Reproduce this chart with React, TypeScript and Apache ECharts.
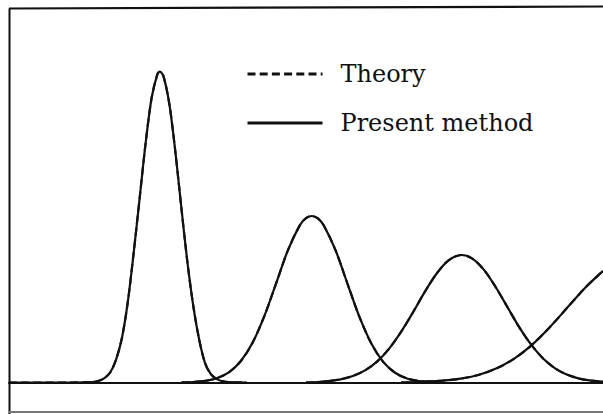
import React, { useEffect, useRef } from "react";
import * as echarts from "echarts";

// Peak profiles: [position, intensity] on a 0–100 by 0–100 scale.
const firstPeak: number[][] = [
  [0, 0], [10, 0], [14, 0.1], [15, 0.4], [16, 1.1], [17, 2.6], [18, 6.0],
  [19, 11.8], [20, 21.5], [21, 34.8], [22, 49.3], [23, 63.9], [24, 75.9],
  [25, 82.4], [25.4, 83.0], [26, 81.8], [27, 74.3], [28, 61.7], [29, 46.9],
  [30, 32.6], [31, 20.7], [32, 11.6], [33, 5.2], [34, 2.2], [35, 0.9],
  [36, 0.3], [37, 0.1], [40, 0],
];
const secondPeak: number[][] = [
  [29, 0], [31, 0.13], [33, 0.43], [35, 1.13], [37, 2.68], [39, 5.66],
  [41, 10.6], [43, 17.8], [45, 26.6], [47, 35.5], [49, 42.1], [50, 43.9],
  [51, 44.46], [52, 43.8], [53, 41.9], [55, 35.2], [57, 26.3], [59, 17.5],
  [61, 10.4], [63, 5.5], [65, 2.6], [67, 1.09], [69, 0.41], [71, 0.13],
  [73, 0],
];
const thirdPeak: number[][] = [
  [50, 0], [52, 0.1], [54, 0.42], [56, 0.9], [58, 1.79], [60, 3.29],
  [62, 5.65], [64, 9.05], [66, 13.5], [68, 18.7], [70, 24.2], [72, 29.1],
  [74, 32.6], [76.2, 34.05], [78, 33.1], [80, 30.0], [82, 25.3], [84, 19.9],
  [86, 14.5], [88, 9.9], [90, 6.28], [92, 3.71], [94, 2.04], [96, 1.05],
  [98, 0.5], [100, 0.22],
];
const fourthPeak: number[][] = [
  [66, 0], [70, 0.21], [73, 0.48], [76, 1.02], [79, 2.02], [82, 3.71],
  [85, 6.32], [88, 10.0], [91, 14.7], [94, 20.0], [97, 25.3], [100, 29.8],
];

const peaks = [firstPeak, secondPeak, thirdPeak, fourthPeak];
const legendNames = ["Theory", "Present method"];

const INK = "#111";

export default function App() {
  const ref = useRef<HTMLDivElement>(null);

  useEffect(() => {
    if (!ref.current) return;
    const chart = echarts.init(ref.current, null, { renderer: "svg" });

    const theorySeries = peaks.map((d) => ({
      name: legendNames[0],
      type: "line",
      data: d,
      symbol: "none",
      smooth: 0.3,
      z: 1,
      lineStyle: { color: INK, width: 2.2, type: [8, 4.2] },
      itemStyle: { color: INK },
    }));
    const presentSeries = peaks.map((d) => ({
      name: legendNames[1],
      type: "line",
      data: d,
      symbol: "none",
      smooth: 0.3,
      z: 2,
      lineStyle: { color: INK, width: 2.2, type: "solid" },
      itemStyle: { color: INK },
    }));

    const legendBase = {
      orient: "vertical",
      left: 246,
      padding: 0,
      itemWidth: 75,
      itemHeight: 14,
      selectedMode: false,
      itemStyle: { opacity: 0 },
      textStyle: {
        fontFamily: "DejaVu Serif",
        fontSize: 24,
        color: INK,
        padding: [0, 0, 0, 13],
      },
    };

    chart.setOption({
      animation: false,
      backgroundColor: "#fff",
      grid: { left: 9, right: 0, top: 8, bottom: 31.5 },
      xAxis: {
        type: "value",
        min: 0,
        max: 100,
        axisLine: { show: true, onZero: false, lineStyle: { color: INK, width: 2 } },
        axisTick: { show: false },
        axisLabel: { show: false },
        splitLine: { show: false },
      },
      yAxis: {
        type: "value",
        min: 0,
        max: 100,
        axisLine: { show: false },
        axisTick: { show: false },
        axisLabel: { show: false },
        splitLine: { show: false },
      },
      legend: [
        {
          ...legendBase,
          top: 62,
          data: [legendNames[0]],
          lineStyle: { width: 3, type: [8, 4.2] },
        },
        {
          ...legendBase,
          top: 111,
          data: [legendNames[1]],
          lineStyle: { width: 3 },
        },
      ],
      graphic: [
        // figure frame
        {
          type: "line",
          shape: { x1: 9.5, y1: 8.5, x2: 9.5, y2: 414 },
          style: { stroke: INK, lineWidth: 2 },
        },
        {
          type: "line",
          shape: { x1: 9, y1: 8.5, x2: 603, y2: 6.5 },
          style: { stroke: INK, lineWidth: 2.2 },
        },
        {
          type: "line",
          shape: { x1: 9, y1: 412, x2: 603, y2: 412 },
          style: { stroke: "#777", lineWidth: 2 },
        },
      ],
      series: [...theorySeries, ...presentSeries],
    });

    return () => chart.dispose();
  }, []);

  return (
    <div
      ref={ref}
      style={{ position: "fixed", left: 0, top: 0, width: 603, height: 414 }}
    />
  );
}
